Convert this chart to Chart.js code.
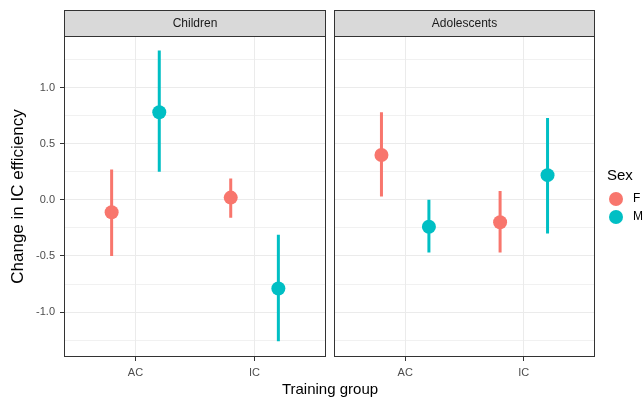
<!DOCTYPE html>
<html>
<head>
<meta charset="utf-8">
<script src="https://cdn.jsdelivr.net/npm/chart.js@4.4.1/dist/chart.umd.min.js"></script>
<style>
  body { margin: 0; background: #fff; }
  #wrap { position: relative; width: 643px; height: 398px; overflow: hidden; }
  canvas { position: absolute; top: 0; }
  #xtitle { position: absolute; left: 230px; width: 200px; top: 380px; text-align: center;
            font: 15px "Liberation Sans", Arial, sans-serif; color: #000; line-height: 18px; }
</style>
</head>
<body>
<div id="wrap">
  <canvas id="children" width="328" height="398" style="left:0"></canvas>
  <canvas id="adolescents" width="311" height="398" style="left:332px"></canvas>
  <div id="xtitle">Training group</div>
</div>
<script>
// data
const categories = ['AC', 'IC'];
const sexes = ['F', 'M'];
const sexColors = ['#F8766D', '#00BFC4'];

const childF_mean = [-0.11, 0.02];
const childF_low = [-0.50, -0.16];
const childF_high = [0.27, 0.19];
const childM_mean = [0.78, -0.79];
const childM_low = [0.25, -1.26];
const childM_high = [1.33, -0.31];

const adolF_mean = [0.40, -0.20];
const adolF_low = [0.03, -0.47];
const adolF_high = [0.78, 0.08];
const adolM_mean = [-0.24, 0.22];
const adolM_low = [-0.47, -0.30];
const adolM_high = [0.00, 0.73];

const yTicks = [-1.25, -1, -0.75, -0.5, -0.25, 0, 0.25, 0.5, 0.75, 1, 1.25];
const yMin = -1.40, yMax = 1.46;
const dodge = 0.2;

Chart.defaults.font.family = '"Liberation Sans", Arial, sans-serif';
Chart.defaults.animation = false;

function isMajor(v) {
    return Math.abs(v * 2 - Math.round(v * 2)) < 1e-6;
}

function errorBarData(offset, low, high) {
    let out = [];
    for (let i = 0; i < categories.length; i++) {
        out.push({x: i + 1 + offset, y: low[i]});
        out.push({x: i + 1 + offset, y: high[i]});
        out.push({x: i + 1 + offset, y: null});
    }
    return out;
}

function pointData(offset, mean) {
    return mean.map((v, i) => ({x: i + 1 + offset, y: v}));
}

// strip on top and the border round the panel
const panelPlugin = {
    id: 'panel',
    afterDraw(chart, args, opts) {
        const {ctx, chartArea: {left, right, top, bottom}} = chart;
        ctx.save();
        ctx.fillStyle = '#D9D9D9';
        ctx.fillRect(left, 10, right - left, top - 10);
        ctx.strokeStyle = '#333333';
        ctx.lineWidth = 1;
        ctx.strokeRect(left + 0.5, 10.5, right - left - 1, top - 10);
        ctx.strokeRect(left + 0.5, top + 0.5, right - left - 1, bottom - top - 1);
        ctx.fillStyle = '#1A1A1A';
        ctx.font = '12px "Liberation Sans", Arial, sans-serif';
        ctx.textAlign = 'center';
        ctx.textBaseline = 'middle';
        ctx.fillText(opts.label, (left + right) / 2, (10 + top) / 2 + 1);
        ctx.restore();
    }
};

const legendPlugin = {
    id: 'sexLegend',
    afterDraw(chart, args, opts) {
        if (!opts.show) return;
        const ctx = chart.ctx;
        const x0 = 607 - 332;
        ctx.save();
        ctx.fillStyle = '#000';
        ctx.font = '15px "Liberation Sans", Arial, sans-serif';
        ctx.textBaseline = 'middle';
        ctx.fillText('Sex', x0, 176);
        ctx.font = '12px "Liberation Sans", Arial, sans-serif';
        sexes.forEach((s, i) => {
            const y = 199 + i * 18;
            ctx.fillStyle = sexColors[i];
            ctx.beginPath();
            ctx.arc(x0 + 9, y, 7, 0, Math.PI * 2);
            ctx.fill();
            ctx.fillStyle = '#000';
            ctx.fillText(s, x0 + 26, y);
        });
        ctx.restore();
    }
};

function makePanel(id, label, first, fMean, fLow, fHigh, mMean, mLow, mHigh) {
    const ctx = document.getElementById(id).getContext('2d');
    const barStyle = {type: 'line', showLine: true, spanGaps: false, pointRadius: 0, borderWidth: 3, borderCapStyle: 'butt'};
    const ptStyle = {type: 'scatter', pointRadius: 7, pointHoverRadius: 7, borderWidth: 0};

    return new Chart(ctx, {
        type: 'scatter',
        data: {
            datasets: [
                {...barStyle, label: 'F', data: errorBarData(-dodge, fLow, fHigh), borderColor: sexColors[0]},
                {...ptStyle, label: 'F', data: pointData(-dodge, fMean), backgroundColor: sexColors[0]},
                {...barStyle, label: 'M', data: errorBarData(dodge, mLow, mHigh), borderColor: sexColors[1]},
                {...ptStyle, label: 'M', data: pointData(dodge, mMean), backgroundColor: sexColors[1]}
            ]
        },
        options: {
            responsive: false,
            events: [],
            layout: {autoPadding: false, padding: {top: 36, right: first ? 2 : 48, left: 0, bottom: 0}},
            plugins: {
                legend: {display: false},
                tooltip: {enabled: false},
                panel: {label: label},
                sexLegend: {show: !first}
            },
            scales: {
                x: {
                    type: 'linear',
                    min: 0.4,
                    max: 2.6,
                    afterBuildTicks: (scale) => { scale.ticks = categories.map((c, i) => ({value: i + 1})); },
                    afterFit: (scale) => { scale.height = 41; },
                    border: {display: false},
                    grid: {color: '#EBEBEB', lineWidth: 1, tickLength: 4, tickColor: '#333333', tickWidth: 1},
                    ticks: {
                        padding: 5,
                        color: '#4D4D4D',
                        font: {size: 11},
                        maxRotation: 0,
                        callback: (v) => categories[Math.round(v) - 1]
                    }
                },
                y: {
                    min: yMin,
                    max: yMax,
                    afterBuildTicks: (scale) => { scale.ticks = yTicks.map(v => ({value: v})); },
                    afterFit: (scale) => { scale.width = first ? 64 : 2; },
                    border: {display: false},
                    grid: {
                        color: '#EBEBEB',
                        lineWidth: (c) => isMajor(c.tick.value) ? 1 : 0.7,
                        drawTicks: first,
                        tickLength: 4,
                        tickWidth: 1,
                        tickColor: (c) => isMajor(c.tick.value) ? '#333333' : 'rgba(0,0,0,0)'
                    },
                    ticks: {
                        display: first,
                        padding: 5,
                        color: '#4D4D4D',
                        font: {size: 11},
                        autoSkip: false,
                        callback: (v) => isMajor(v) ? v.toFixed(1) : ''
                    },
                    title: {
                        display: first,
                        text: 'Change in IC efficiency',
                        color: '#000',
                        font: {size: 17},
                        padding: {top: 8, bottom: 0}
                    }
                }
            }
        },
        plugins: [panelPlugin, legendPlugin]
    });
}

makePanel('children', 'Children', true,
    childF_mean, childF_low, childF_high, childM_mean, childM_low, childM_high);
makePanel('adolescents', 'Adolescents', false,
    adolF_mean, adolF_low, adolF_high, adolM_mean, adolM_low, adolM_high);
</script>
</body>
</html>
